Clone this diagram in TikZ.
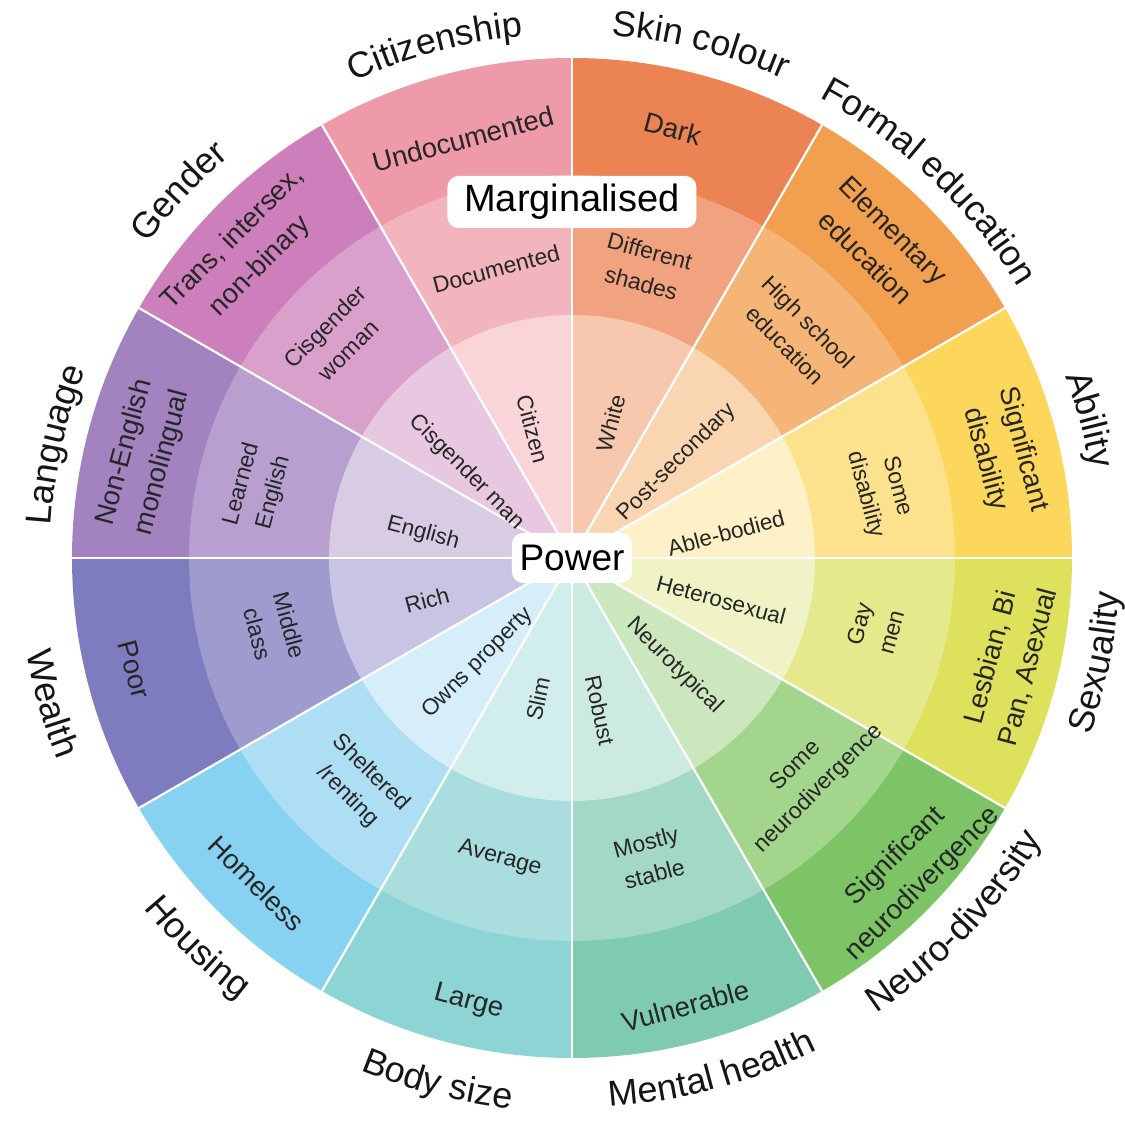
\documentclass[tikz,border=0pt]{standalone}
\usepackage{fontspec}
\setmainfont{Liberation Sans}
\usetikzlibrary{decorations.text}

% sector colours: O = outer ring, M = middle ring, I = inner disc
\definecolor{skinO}{HTML}{EC8353}\definecolor{skinM}{HTML}{F1A37F}\definecolor{skinI}{HTML}{F7C8AD}
\definecolor{eduO}{HTML}{F2A04F}\definecolor{eduM}{HTML}{F5B576}\definecolor{eduI}{HTML}{F9D6B1}
\definecolor{ablO}{HTML}{FDD65C}\definecolor{ablM}{HTML}{FDE28E}\definecolor{ablI}{HTML}{FEF1C8}
\definecolor{sexO}{HTML}{DDE15C}\definecolor{sexM}{HTML}{E5E88B}\definecolor{sexI}{HTML}{EFF3C5}
\definecolor{neuO}{HTML}{7DC466}\definecolor{neuM}{HTML}{A3D58C}\definecolor{neuI}{HTML}{CCE6BE}
\definecolor{menO}{HTML}{7ECBB1}\definecolor{menM}{HTML}{A4D8C6}\definecolor{menI}{HTML}{CCEAE2}
\definecolor{bodO}{HTML}{8DD4D4}\definecolor{bodM}{HTML}{AADDDD}\definecolor{bodI}{HTML}{D2EEEC}
\definecolor{houO}{HTML}{87D2F1}\definecolor{houM}{HTML}{ADDEF4}\definecolor{houI}{HTML}{D5EEF9}
\definecolor{weaO}{HTML}{7E7BBF}\definecolor{weaM}{HTML}{9E9BCF}\definecolor{weaI}{HTML}{C7C5E3}
\definecolor{lanO}{HTML}{A283BF}\definecolor{lanM}{HTML}{B7A0CF}\definecolor{lanI}{HTML}{D8CCE5}
\definecolor{genO}{HTML}{CC7FBA}\definecolor{genM}{HTML}{D9A0CB}\definecolor{genI}{HTML}{E8C8E1}
\definecolor{citO}{HTML}{EE9AA8}\definecolor{citM}{HTML}{F3B5BD}\definecolor{citI}{HTML}{F9D5D9}
\definecolor{txt}{HTML}{262626}
\definecolor{lbl}{HTML}{151515}

\begin{document}
\begin{tikzpicture}[
  outertext/.style={font=\fontsize{27.5pt}{39pt}\selectfont, align=center, inner sep=0pt, text=txt},
  midtext/.style={font=\fontsize{23pt}{33pt}\selectfont, align=center, inner sep=0pt, text=txt},
  innertext/.style={font=\fontsize{22.5pt}{26pt}\selectfont, inner sep=0pt, text=txt},
  tag/.style={fill=white, rounded corners=11pt, text=black, inner sep=0pt},
  toplabel/.style={decorate, decoration={text along path, text align=center, text color=lbl,
      text={|\fontsize{36pt}{36pt}\selectfont|#1}}},
  bottomlabel/.style={decorate, decoration={text along path, text align=center, text color=lbl,
      text={|\fontsize{36pt}{36pt}\selectfont|#1}}},
]
\useasboundingbox (-572pt,-563pt) rectangle (553pt,558pt);
\coordinate (hub) at (0,0);

% the twelve sectors, each in three rings
\foreach \a/\co/\cm/\ci in {60/skinO/skinM/skinI, 30/eduO/eduM/eduI, 0/ablO/ablM/ablI,
    -30/sexO/sexM/sexI, -60/neuO/neuM/neuI, -90/menO/menM/menI, -120/bodO/bodM/bodI,
    -150/houO/houM/houI, -180/weaO/weaM/weaI, 150/lanO/lanM/lanI, 120/genO/genM/genI,
    90/citO/citM/citI} {
  \fill[\co] (hub) -- (\a:500pt) arc[start angle=\a, delta angle=30, radius=500pt] -- cycle;
  \fill[\cm] (hub) -- (\a:383pt) arc[start angle=\a, delta angle=30, radius=383pt] -- cycle;
  \fill[\ci] (hub) -- (\a:243pt) arc[start angle=\a, delta angle=30, radius=243pt] -- cycle;
}
% white spokes between sectors
\foreach \a in {0,30,...,330}
  \draw[white, line width=2.2pt] (hub) -- (\a:500pt);

% outer ring texts
\node[outertext, rotate=15]  (citO) at (104.6:433pt) {Undocumented};
\node[outertext, rotate=-15] (skiO) at (76.8:441pt) {Dark};
\node[outertext, rotate=-45] (eduO) at (45.6:440pt) {Elementary\\education};
\node[outertext, rotate=-75] (ablO) at (13.5:444pt) {Significant\\disability};
\node[outertext, rotate=75]  (sexO) at (-13.4:450pt) {Lesbian, Bi\\Pan, Asexual};
\node[outertext, rotate=45]  (neuO) at (-42.8:460pt) {Significant\\neurodivergence};
\node[outertext, rotate=15]  (menO) at (-75.8:462pt) {Vulnerable};
\node[outertext, rotate=-15] (bodO) at (-103.1:456pt) {Large};
\node[outertext, rotate=-45] (houO) at (-134.1:453pt) {Homeless};
\node[outertext, rotate=-75] (weaO) at (-165.7:452pt) {Poor};
\node[outertext, rotate=75]  (lanO) at (166.8:440pt) {Non-English\\monolingual};
\node[outertext, rotate=45]  (genO) at (136.8:446pt) {Trans, intersex,\\non-binary};

% middle ring texts
\node[midtext, rotate=15]  (citM) at (104.7:299pt) {Documented};
\node[midtext, rotate=-15] (skiM) at (75.8:300pt) {Different\\shades};
\node[midtext, rotate=-45] (eduM) at (44.9:318pt) {High school\\education};
\node[midtext, rotate=-75] (ablM) at (12.3:316pt) {Some\\disability};
\node[midtext, rotate=75]  (sexM) at (-13:311pt) {Gay\\men};
\node[midtext, rotate=45]  (neuM) at (-43:322pt) {Some\\neurodivergence};
\node[midtext, rotate=15]  (menM) at (-75.4:310pt) {Mostly\\stable};
\node[midtext, rotate=-15] (bodM) at (-103.5:309pt) {Average};
\node[midtext, rotate=-45] (houM) at (-133.2:311pt) {Sheltered\\/renting};
\node[midtext, rotate=-75] (weaM) at (-166.5:307pt) {Middle\\class};
\node[midtext, rotate=75]  (lanM) at (167.5:322pt) {Learned\\English};
\node[midtext, rotate=45]  (genM) at (137:322pt) {Cisgender\\woman};

% inner disc texts, set along the radius
\node[innertext, rotate=-75] (citI) at (107:135pt) {Citizen};
\node[innertext, rotate=75]  (skiI) at (74:140pt) {White};
\node[innertext, rotate=45]  (eduI) at (42.4:142pt) {Post-secondary};
\node[innertext, rotate=15]  (ablI) at (9.2:156pt) {Able-bodied};
\node[innertext, rotate=-15] (sexI) at (-15.7:155pt) {Heterosexual};
\node[innertext, rotate=-45] (neuI) at (-46.4:149pt) {Neurotypical};
\node[innertext, rotate=-78] (menI) at (-79.6:155pt) {Robust};
\node[innertext, rotate=78]  (bodI) at (-103.6:145pt) {Slim};
\node[innertext, rotate=45]  (houI) at (-131.8:141pt) {Owns property};
\node[innertext, rotate=15]  (weaI) at (-163.8:151pt) {Rich};
\node[innertext, rotate=-15] (lanI) at (170.5:151pt) {English};
\node[innertext, rotate=-45] (genI) at (140.7:136pt) {Cisgender man};

% white tags
\node[tag, font=\fontsize{38pt}{38pt}\selectfont, minimum width=249pt, minimum height=52pt]
  (marg) at (0pt,356pt) {Marginalised};
\node[tag, font=\fontsize{37pt}{37pt}\selectfont, minimum width=120pt, minimum height=50pt]
  (power) at (hub) {Power};

% category names round the rim (clockwise on top, anticlockwise below)
\path[toplabel=Citizenship] (145:524pt) arc[start angle=145, end angle=65, radius=524pt];
\path[toplabel={Skin colour}] (115.9:524pt) arc[start angle=115.9, end angle=35.9, radius=524pt];
\path[toplabel={Formal education}] (86.5:522pt) arc[start angle=86.5, end angle=6.5, radius=522pt];
\path[toplabel=Ability] (55:526pt) arc[start angle=55, end angle=-25, radius=526pt];
\path[toplabel=Language] (207.6:522pt) arc[start angle=207.6, end angle=127.6, radius=522pt];
\path[toplabel=Gender] (177:528pt) arc[start angle=177, end angle=97, radius=528pt];
\path[bottomlabel=Sexuality] (-51.3:548pt) arc[start angle=-51.3, end angle=28.7, radius=548pt];
\path[bottomlabel=Neuro-diversity] (-83.6:548pt) arc[start angle=-83.6, end angle=-3.6, radius=548pt];
\path[bottomlabel={Mental health}] (-114.8:550pt) arc[start angle=-114.8, end angle=-34.8, radius=550pt];
\path[bottomlabel={Body size}] (-144.4:554pt) arc[start angle=-144.4, end angle=-64.4, radius=554pt];
\path[bottomlabel=Housing] (-173.9:553pt) arc[start angle=-173.9, end angle=-93.9, radius=553pt];
\path[bottomlabel=Wealth] (-204.4:553pt) arc[start angle=-204.4, end angle=-124.4, radius=553pt];
\end{tikzpicture}
\end{document}
